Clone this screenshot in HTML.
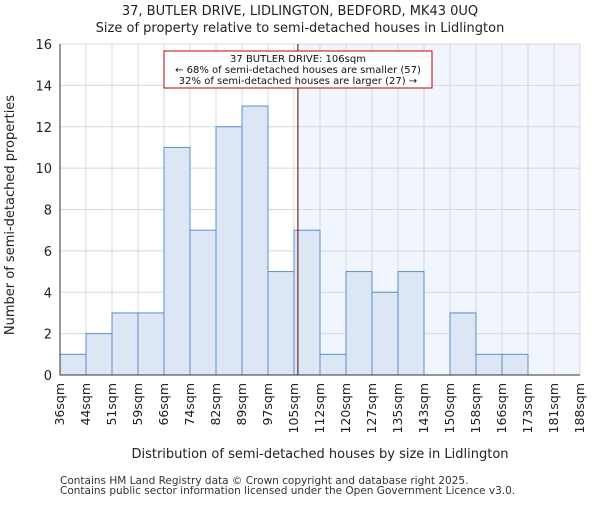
<!DOCTYPE html>
<html><head><meta charset="utf-8"><style>body{margin:0;background:#fff}svg{font-family:"DejaVu Sans","Liberation Sans",sans-serif}</style></head>
<body>
<svg id="c" width="600" height="500" xmlns="http://www.w3.org/2000/svg"></svg>
<script>
const categories=["36sqm","44sqm","51sqm","59sqm","66sqm","74sqm","82sqm","89sqm","97sqm","105sqm","112sqm","120sqm","127sqm","135sqm","143sqm","150sqm","158sqm","166sqm","173sqm","181sqm","188sqm"];
const counts=[1,2,3,3,11,7,12,13,5,7,1,5,4,5,0,3,1,1,0,0];
const yTicks=[0,2,4,6,8,10,12,14,16];
const markerBin=9.15;
const svg=document.getElementById('c');const NS='http://www.w3.org/2000/svg';
const L=60,R=580,T=44,B=375,bw=(R-L)/counts.length;
const x=i=>L+i*bw, y=v=>B-(v/16)*(B-T);
function el(t,a,p){const e=document.createElementNS(NS,t);for(const k in a)e.setAttribute(k,a[k]);(p||svg).appendChild(e);return e;}
let e;
e=el('rect',{x:x(markerBin),y:T,width:R-x(markerBin),height:B-T,fill:'#f1f5fd'});

for(let i=0;i<=counts.length;i++){e=el('line',{x1:x(i),x2:x(i),y1:T,y2:B,stroke:'#d8d8d8'});}
yTicks.forEach(v=>{e=el('line',{x1:L,x2:R,y1:y(v),y2:y(v),stroke:'#d8d8d8'});
e=el('text',{x:L-8,y:y(v)+5,'text-anchor':'end','font-size':13,fill:'#222'});e.textContent=v;});
counts.forEach((c,i)=>{if(c<=0)return;e=el('rect',{x:x(i),y:y(c),width:bw,height:B-y(c),fill:'#dce6f5',stroke:'#5b8fd0','stroke-width':1});});
categories.forEach((c,i)=>{e=el('text',{transform:`translate(${x(i)+4},${B+8}) rotate(-90)`,'text-anchor':'end','font-size':12.5,fill:'#222'});e.textContent=c;});
e=el('line',{x1:L,x2:R,y1:B,y2:B,stroke:'#333'});
e=el('line',{x1:L,x2:L,y1:T,y2:B,stroke:'#333'});
e=el('line',{x1:x(markerBin),x2:x(markerBin),y1:T,y2:B,stroke:'#600000','stroke-width':1});
const g=el('g',{});
el('rect',{x:164,y:51,width:268,height:37,fill:'#fff',stroke:'#c00000','stroke-width':1},g);
["37 BUTLER DRIVE: 106sqm","← 68% of semi-detached houses are smaller (57)","32% of semi-detached houses are larger (27) →"].forEach((t,i)=>{e=el('text',{x:298,y:62+i*11,'text-anchor':'middle','font-size':10,fill:'#111'},g);e.textContent=t;});
function txt(t,a,n){e=el('text',a);e.textContent=t;}
txt("37, BUTLER DRIVE, LIDLINGTON, BEDFORD, MK43 0UQ",{x:300,y:15,'text-anchor':'middle','font-size':13,fill:'#222'},'chart-title');
txt("Size of property relative to semi-detached houses in Lidlington",{x:300,y:32,'text-anchor':'middle','font-size':13,fill:'#222'},'chart-subtitle');
txt("Distribution of semi-detached houses by size in Lidlington",{x:320,y:458,'text-anchor':'middle','font-size':13,fill:'#222'},'x-axis-title');
txt("Number of semi-detached properties",{transform:'translate(14,215) rotate(-90)','text-anchor':'middle','font-size':13,fill:'#222'},'y-axis-title');
txt("Contains HM Land Registry data © Crown copyright and database right 2025.",{x:60,y:484,'font-size':10.5,fill:'#333'},'footer-line-1');
txt("Contains public sector information licensed under the Open Government Licence v3.0.",{x:60,y:494,'font-size':10.5,fill:'#333'},'footer-line-2');
</script>
</body></html>
